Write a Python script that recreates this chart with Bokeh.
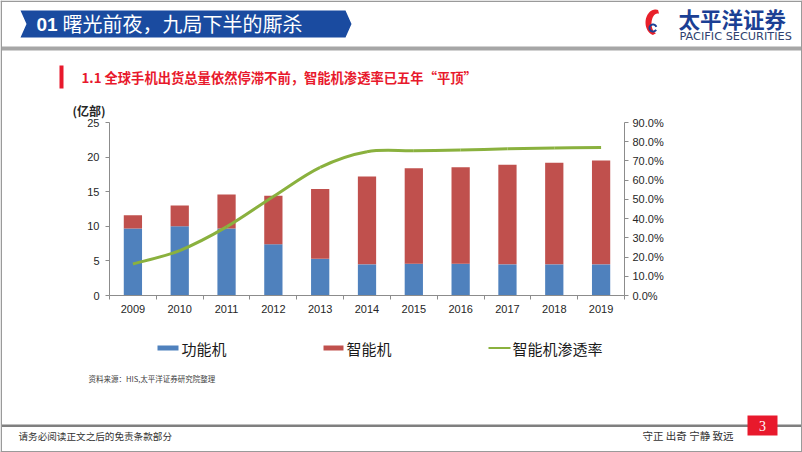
from bokeh.plotting import figure
from bokeh.models import Range1d, LinearAxis, FixedTicker, NumeralTickFormatter, ColumnDataSource
from bokeh.core.properties import value
from bokeh.embed import file_html
from bokeh.resources import INLINE
import numpy as np

# ---------------- data ----------------
years = ["2009", "2010", "2011", "2012", "2013", "2014", "2015", "2016", "2017", "2018", "2019"]
feature_phones = [9.7, 10.0, 9.7, 7.4, 5.3, 4.5, 4.6, 4.6, 4.5, 4.5, 4.5]
smart_phones = [1.9, 3.0, 4.9, 7.0, 10.1, 12.7, 13.8, 13.95, 14.4, 14.7, 15.0]
penetration = [0.164, 0.234, 0.357, 0.515, 0.667, 0.748, 0.753, 0.757, 0.763, 0.767, 0.770]
left_ticks = [0, 5, 10, 15, 20, 25]
right_ticks = [0.0, 0.1, 0.2, 0.3, 0.4, 0.5, 0.6, 0.7, 0.8, 0.9]
series_names = ["功能机", "智能机", "智能机渗透率"]
unit_label = "(亿部)"

BLUE = "#4F81BD"
RED = "#C0504D"
GREEN = "#8AB13E"
AXIS = "#8C8C8C"
CJK = "Noto Sans CJK SC"
W, H = 802, 452

# chart area in page pixels
FL, FR, FT, FB = 109, 624, 122, 295
X0, X1 = -0.5, len(years) - 0.5
Y0, Y1 = left_ticks[0], left_ticks[-1]
R0, R1 = right_ticks[0], right_ticks[-1]
kx = (X1 - X0) / (FR - FL)
ky = (Y1 - Y0) / (FB - FT)
kr = (R1 - R0) / (FB - FT)

p = figure(width=W, height=H, output_backend="svg", toolbar_location=None,
           x_range=Range1d(X0 - FL * kx, X1 + (W - FR) * kx),
           y_range=Range1d(Y0 - (H - FB) * ky, Y1 + FT * ky),
           x_axis_location=None, y_axis_location=None, min_border=0)
p.outline_line_color = None
p.xgrid.visible = False
p.ygrid.visible = False
p.background_fill_color = "white"
p.border_fill_color = "white"
p.extra_y_ranges = {"pct": Range1d(R0 - (H - FB) * kr, R1 + FT * kr), "py": Range1d(H, 0)}
p.extra_x_ranges = {"px": Range1d(0, W)}


def style_axis(ax):
    ax.axis_line_color = AXIS
    ax.axis_line_width = 1
    ax.major_tick_line_color = AXIS
    ax.minor_tick_line_color = AXIS
    ax.major_tick_in = 0
    ax.minor_tick_in = 0
    ax.major_label_text_font = "Liberation Sans"
    ax.major_label_text_font_size = "11px"
    ax.major_label_text_color = "#262626"


yl = LinearAxis(ticker=FixedTicker(ticks=left_ticks, minor_ticks=[]), fixed_location=X0, bounds=(Y0, Y1))
style_axis(yl)
yl.major_tick_out = 4
yl.major_label_standoff = 6
p.add_layout(yl, "left")

yr = LinearAxis(y_range_name="pct", ticker=FixedTicker(ticks=right_ticks, minor_ticks=[]),
                formatter=NumeralTickFormatter(format="0.0%"), fixed_location=X1, bounds=(R0, R1))
style_axis(yr)
yr.major_tick_out = 4
yr.major_label_standoff = 4
p.add_layout(yr, "right")

xb = LinearAxis(ticker=FixedTicker(ticks=list(range(len(years))),
                                   minor_ticks=[i - 0.5 for i in range(len(years) + 1)]),
                major_label_overrides={i: y for i, y in enumerate(years)},
                fixed_location=Y0, bounds=(X0, X1))
style_axis(xb)
xb.major_tick_out = 0
xb.major_tick_line_color = None
xb.minor_tick_out = 4
xb.major_label_standoff = 5
p.add_layout(xb, "below")

src = ColumnDataSource(dict(x=list(range(len(years))), feature=feature_phones, smart=smart_phones))
p.vbar_stack(["feature", "smart"], x="x", width=0.39, color=[BLUE, RED], line_color=None, source=src)

# smoothed penetration line (Catmull-Rom -> cubic Bezier)
P = np.column_stack([np.arange(len(years), dtype=float), np.array(penetration)])
E = np.vstack([P[0], P, P[-1]])
n = len(P) - 1
c0 = P[:-1] + (E[2:n + 2] - E[0:n]) / 6.0
c1 = P[1:] - (E[3:n + 3] - E[1:n + 1]) / 6.0
p.bezier(x0=P[:-1, 0], y0=P[:-1, 1], x1=P[1:, 0], y1=P[1:, 1],
         cx0=c0[:, 0], cy0=c0[:, 1], cx1=c1[:, 0], cy1=c1[:, 1],
         y_range_name="pct", line_color=GREEN, line_width=3)


# ---------------- page decorations, in page pixel coordinates ----------------
def txt(Xp, Yp, s, size, color, font=CJK, style="normal", align="left"):
    p.text(x=[Xp], y=[Yp], text=[s], x_range_name="px", y_range_name="py",
           text_font=value(font), text_font_size=value(size), text_color=color,
           text_font_style=value(style), text_align=value(align), text_baseline=value("middle"))


def rect(Xa, Ya, Xb, Yb, color):
    p.quad(left=[Xa], right=[Xb], top=[Ya], bottom=[Yb], x_range_name="px", y_range_name="py",
           fill_color=color, line_color=None)


def shape(xs, ys, color):
    p.patch(list(xs), list(ys), x_range_name="px", y_range_name="py", fill_color=color, line_color=None)


# slide border
rect(0, 0, W, 1.5, "#9A9A9A")
rect(0, H - 1.5, W, H, "#9A9A9A")
rect(0, 0, 1.5, H, "#9A9A9A")
rect(W - 1.5, 0, W, H, "#9A9A9A")

# header banner
shape([20, 345, 351, 345, 20, 26], [10, 10, 23.5, 37, 37, 23.5], "#1A4BA0")
txt(36, 24, "01", "19px", "white", font="Liberation Sans", style="bold")
txt(62, 23, "曙光前夜，九局下半的厮杀", "20px", "white")
rect(1.5, 46, W - 1.5, 50, "#A6A6A6")

# logo
t = np.linspace(np.radians(75), np.radians(255), 30)
shape(list(655 + 10 * np.cos(t)) + list(657 + 6 * np.cos(t[::-1])),
      list(22 - 13 * np.sin(t)) + list(23 - 10 * np.sin(t[::-1])), "#E8202A")
t2 = np.linspace(np.radians(20), np.radians(330), 30)
shape(list(652.5 + 4.5 * np.cos(t2)) + list(652.5 + 2.5 * np.cos(t2[::-1])),
      list(27.5 - 4.5 * np.sin(t2)) + list(27.5 - 2.5 * np.sin(t2[::-1])), "#1B3F94")
txt(678, 17.5, "太平洋证券", "21.5px", "#1B3F94", style="bold")
txt(679, 35.5, "PACIFIC SECURITIES", "11.3px", "#2F3F6F", font="DejaVu Sans")

# section title
rect(59, 65, 63, 88, "#E8192C")
txt(81, 77, "1.1 全球手机出货总量依然停滞不前，智能机渗透率已五年“平顶”", "13.3px", "#E8192C", style="bold")

# axis unit
txt(72, 110, unit_label, "12px", "#262626", style="bold")

# legend
rect(157, 345, 178, 350, BLUE)
txt(181, 347.5, series_names[0], "15px", "#1A1A1A")
rect(323, 345, 343, 350, RED)
txt(346, 347.5, series_names[1], "15px", "#1A1A1A")
rect(488, 346.5, 510, 348.5, GREEN)
txt(512, 347.5, series_names[2], "15px", "#1A1A1A")

# source
txt(88, 378, "资料来源：HIS,太平洋证券研究院整理", "7.5px", "#404040")

# footer
rect(1.5, 424, W - 1.5, 426.5, "#7F7F7F")
rect(747, 415, 777, 435, "#E8192C")
txt(762, 425.5, "3", "14px", "white", font="Liberation Serif", align="center")
txt(18, 435, "请务必阅读正文之后的免责条款部分", "9.6px", "#333333")
txt(642, 435, "守正 出奇 宁静 致远", "10.5px", "#333333")

open("out.html", "w").write(file_html(p, INLINE))
